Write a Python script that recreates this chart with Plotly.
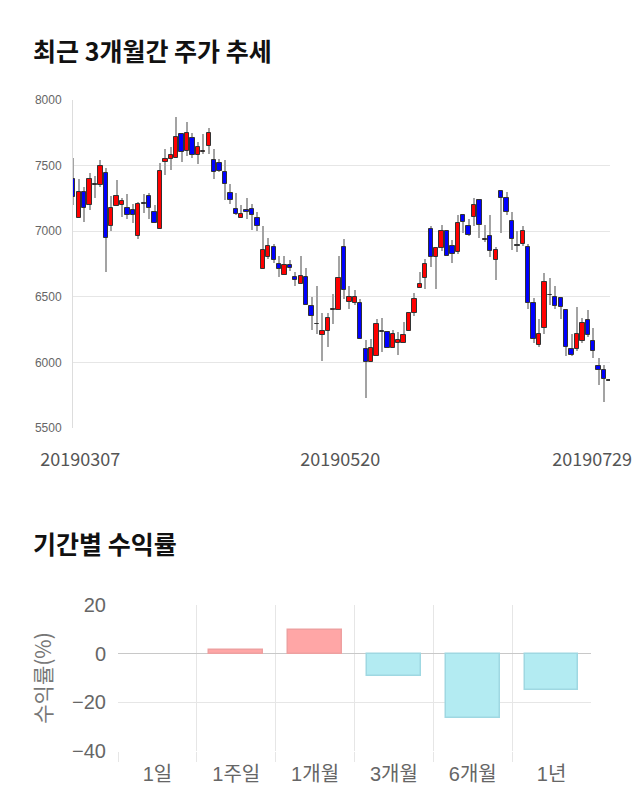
import plotly.graph_objects as go

# ---- candlestick data (3 months, daily) ----
opens = [7400, 7100, 7300, 7200, 7350, 7350, 7440, 7040, 7190, 7200,
         7180, 7160, 6960, 7210, 7270, 7150, 7020, 7530, 7550, 7560,
         7740, 7610, 7710, 7580, 7600, 7650, 7540, 7520, 7450, 7290,
         7170, 7100, 7160, 7170, 7100, 6710, 6800, 6880, 6750, 6670,
         6740, 6650, 6600, 6650, 6430, 6290, 6210, 6240, 6400, 6400,
         6880, 6460, 6450, 6450, 6100, 6000, 6050, 6230, 6230, 6110,
         6150, 6150, 6240, 6380, 6570, 6640, 7020, 6800, 6870, 7000,
         6890, 6840, 7120, 7040, 7110, 7240, 6930, 6960, 6780, 7310,
         7250, 7080, 6890, 6900, 6880, 6450, 6130, 6260, 6510, 6500,
         6490, 6400, 6100, 6100, 6160, 6320, 6160, 5970, 5940, 5860]
highs = [7560, 7400, 7340, 7440, 7420, 7540, 7480, 7270, 7390, 7250,
         7280, 7210, 7220, 7280, 7290, 7200, 7520, 7630, 7640, 7870,
         7750, 7830, 7750, 7680, 7740, 7790, 7630, 7550, 7540, 7360,
         7290, 7200, 7250, 7210, 7150, 7040, 6950, 6900, 6810, 6810,
         6780, 6690, 6810, 6720, 6500, 6580, 6380, 6380, 6520, 6810,
         6940, 6580, 6550, 6480, 6170, 6180, 6330, 6340, 6230, 6250,
         6230, 6310, 6380, 6530, 6690, 6790, 7040, 6870, 7050, 7000,
         6930, 7120, 7120, 7090, 7250, 7240, 7050, 7120, 6880, 7310,
         7300, 7150, 7000, 7040, 6900, 6490, 6330, 6680, 6640, 6580,
         6500, 6410, 6220, 6420, 6340, 6400, 6260, 6030, 5980, 5870]
lows = [7200, 7100, 7070, 7160, 7250, 7340, 6690, 7000, 7190, 7110,
        7090, 7060, 6940, 7140, 7090, 7060, 7020, 7430, 7470, 7560,
        7530, 7570, 7560, 7510, 7590, 7590, 7400, 7450, 7240, 7210,
        7120, 7100, 7090, 7010, 7000, 6710, 6790, 6760, 6650, 6670,
        6700, 6580, 6600, 6440, 6250, 6220, 6010, 6120, 6290, 6400,
        6480, 6410, 6440, 6180, 5730, 6000, 6050, 6080, 6110, 6110,
        6060, 6150, 6240, 6350, 6570, 6560, 6730, 6560, 6850, 6810,
        6760, 6830, 6990, 6960, 7040, 6950, 6920, 6800, 6630, 6990,
        7120, 6860, 6840, 6890, 6410, 6150, 6120, 6220, 6440, 6410,
        6330, 6050, 6050, 6090, 6150, 6190, 6030, 5830, 5700, 5860]
closes = [7260, 7300, 7180, 7400, 7350, 7500, 6950, 7180, 7270, 7230,
          7120, 7120, 7210, 7210, 7180, 7060, 7460, 7550, 7580, 7720,
          7600, 7750, 7580, 7640, 7610, 7750, 7450, 7460, 7360, 7240,
          7130, 7130, 7150, 7120, 7040, 6860, 6890, 6780, 6710, 6740,
          6720, 6630, 6660, 6440, 6350, 6290, 6240, 6340, 6410, 6640,
          6550, 6500, 6500, 6180, 6000, 6110, 6290, 6230, 6110, 6220,
          6170, 6210, 6380, 6480, 6600, 6750, 6800, 6870, 7000, 6810,
          6830, 7060, 7070, 6970, 7200, 7050, 6940, 6850, 6860, 7250,
          7150, 6940, 6890, 7000, 6450, 6180, 6220, 6610, 6510, 6430,
          6420, 6120, 6060, 6220, 6300, 6210, 6090, 5940, 5870, 5860]
date_tick_labels = ["20190307", "20190520", "20190729"]
date_tick_pos = [1.3, 49.3, 95.8]
price_ticks = [5500, 6000, 6500, 7000, 7500, 8000]

# ---- period returns ----
period_labels = ["1일", "1주일", "1개월", "3개월", "6개월", "1년"]
period_returns = [0.0, 1.6, 9.7, -9.1, -26.3, -14.9]

KR = "Noto Sans CJK KR"
LAT = "Liberation Sans, Noto Sans CJK KR"

n = len(opens)
idx = list(range(n))

wick_base = lows
wick_h = [h - l for h, l in zip(highs, lows)]
body_base = [min(o, c) for o, c in zip(opens, closes)]
body_h = [max(abs(c - o), 6) for o, c in zip(opens, closes)]
body_col = ["#ff0000" if c > o else ("#0000ff" if c < o else "#333333")
            for o, c in zip(opens, closes)]

fig = go.Figure()
# wicks (drawn first so bodies sit on top)
fig.add_trace(go.Bar(x=idx, y=wick_h, base=wick_base, width=0.19,
                     marker=dict(color="#a3a3a3", line=dict(width=0)),
                     hoverinfo="skip", showlegend=False, xaxis="x", yaxis="y"))
# bodies
fig.add_trace(go.Bar(x=idx, y=body_h, base=body_base, width=0.8,
                     marker=dict(color=body_col, line=dict(color="#333333", width=1)),
                     showlegend=False, xaxis="x", yaxis="y"))

ret_fill = ["#ffa6a6" if v >= 0 else "#b3ebf2" for v in period_returns]
ret_line = ["#eea0a0" if v >= 0 else "#9fd8e2" for v in period_returns]
ret_lw = [1.5 if v != 0 else 0 for v in period_returns]
fig.add_trace(go.Bar(x=list(range(len(period_labels))), y=period_returns, width=0.68,
                     marker=dict(color=ret_fill, line=dict(color=ret_line, width=ret_lw)),
                     showlegend=False, xaxis="x2", yaxis="y2"))

W, H = 640, 810
def px_x(a, b):
    return [a / W, b / W]
def px_y(top, bottom):
    return [(H - bottom) / H, (H - top) / H]

fig.update_layout(
    width=W, height=H,
    margin=dict(l=0, r=0, t=0, b=0, autoexpand=False),
    paper_bgcolor="white", plot_bgcolor="white",
    barmode="overlay", bargap=0,
    xaxis=dict(domain=px_x(73, 610), range=[-0.05, 99.1], anchor="y", automargin=False,
               showgrid=False, zeroline=False, showline=False,
               tickmode="array", tickvals=date_tick_pos, ticktext=date_tick_labels,
               tickfont=dict(family=KR, size=18, color="#555555"),
               ticks="", ticklabelstandoff=19),
    yaxis=dict(domain=px_y(100, 428), range=[5500, 8000], anchor="x", automargin=False,
               tickmode="array", tickvals=price_ticks,
               showgrid=True, gridcolor="#e6e6e6", gridwidth=1,
               zeroline=False, showline=True, linecolor="#dddddd", linewidth=1,
               tickfont=dict(family=LAT, size=12, color="#666666"),
               ticks="", ticklabelstandoff=8),
    xaxis2=dict(domain=px_x(118, 591), range=[-0.5, 5.5], anchor="y2", automargin=False,
                tickmode="array", tickvals=list(range(len(period_labels))),
                ticktext=period_labels, showgrid=False, zeroline=False, showline=False,
                tickfont=dict(family=LAT, size=20, color="#666666"),
                ticks="", ticklabelstandoff=9,
                minor=dict(tickmode="array", tickvals=[-0.5, 0.5, 1.5, 2.5, 3.5, 4.5],
                           showgrid=True, gridcolor="#e6e6e6", gridwidth=1,
                           ticks="outside", ticklen=10, tickcolor="#e6e6e6")),
    yaxis2=dict(domain=px_y(605, 751), range=[-40, 20], anchor="x2", automargin=False,
                tickmode="array", tickvals=[-40, -20, 0, 20],
                showgrid=True, gridcolor="#e6e6e6", gridwidth=1,
                zeroline=True, zerolinecolor="#c8c8c8", zerolinewidth=1,
                showline=False,
                tickfont=dict(family=LAT, size=20, color="#666666"),
                ticks="", ticklabelstandoff=11,
                title=dict(text="수익률(%)", font=dict(family=KR, size=21, color="#777777"),
                           standoff=14)),
    annotations=[
        dict(text="<b>최근 3개월간 주가 추세</b>", xref="paper", yref="paper",
             x=31 / W, y=(H - 50) / H, xanchor="left", yanchor="middle",
             showarrow=False, font=dict(family=KR, size=25, color="#111111")),
        dict(text="<b>기간별 수익률</b>", xref="paper", yref="paper",
             x=31 / W, y=(H - 543) / H, xanchor="left", yanchor="middle",
             showarrow=False, font=dict(family=KR, size=25, color="#111111")),
    ],
)

fig.write_html("out.html")
